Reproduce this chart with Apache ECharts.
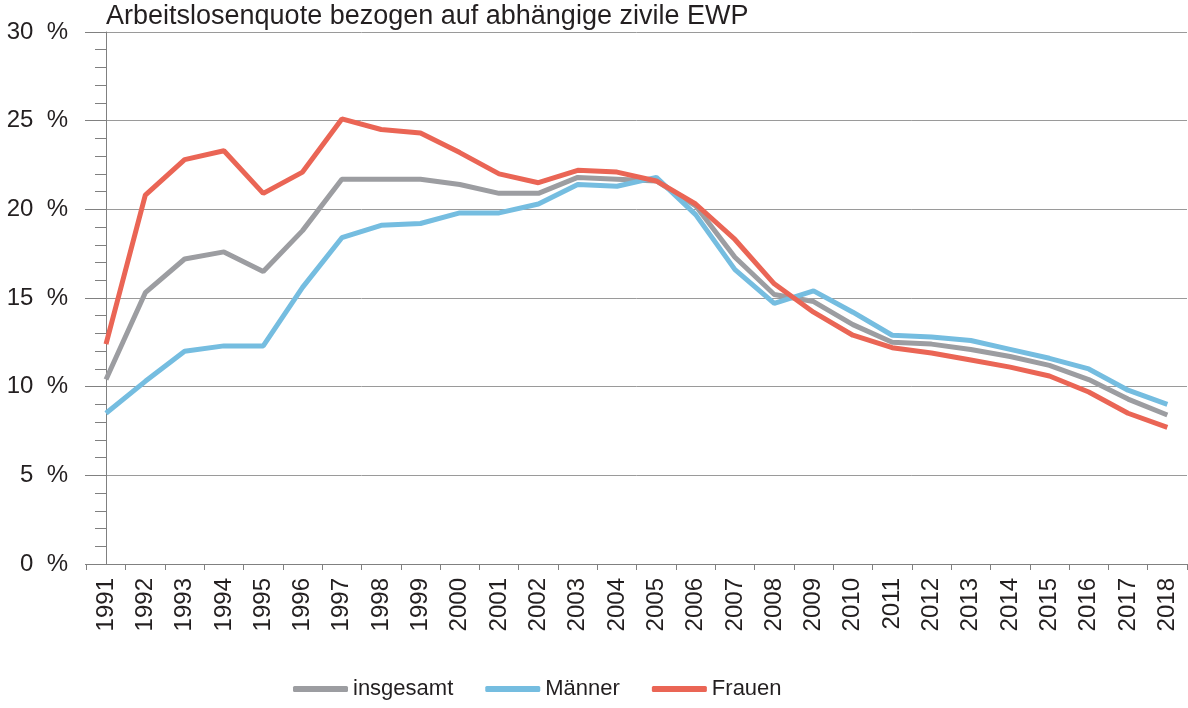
<!DOCTYPE html>
<html>
<head>
<meta charset="utf-8">
<script src="https://cdn.jsdelivr.net/npm/echarts@6/dist/echarts.min.js"></script>
<style>
  html, body { margin: 0; padding: 0; background: #ffffff; }
  #chart { width: 1188px; height: 708px; }
</style>
</head>
<body>
<div id="chart"></div>
<script>
const years = ['1991','1992','1993','1994','1995','1996','1997','1998','1999','2000','2001','2002','2003','2004','2005','2006','2007','2008','2009','2010','2011','2012','2013','2014','2015','2016','2017','2018'];
const insgesamt = [10.4,15.3,17.2,17.6,16.5,18.8,21.7,21.7,21.7,21.4,20.9,20.9,21.8,21.7,21.6,20.2,17.3,15.2,14.8,13.5,12.5,12.4,12.1,11.7,11.2,10.4,9.3,8.4];
const maenner   = [8.5,10.3,12.0,12.3,12.3,15.6,18.4,19.1,19.2,19.8,19.8,20.3,21.4,21.3,21.8,19.7,16.6,14.7,15.4,14.2,12.9,12.8,12.6,12.1,11.6,11.0,9.8,9.0];
const frauen    = [12.4,20.8,22.8,23.3,20.9,22.1,25.1,24.5,24.3,23.2,22.0,21.5,22.2,22.1,21.6,20.3,18.3,15.8,14.2,12.9,12.2,11.9,11.5,11.1,10.6,9.7,8.5,7.7];
const seriesNames = ['insgesamt','Männer','Frauen'];
const titleText = 'Arbeitslosenquote bezogen auf abhängige zivile EWP';

const FONT = '"Liberation Sans", Arial, Helvetica, sans-serif';
const TXT = '#231f20';
const AXIS = '#808080';
const colors = ['#9c9da1', '#75bde0', '#ea6555'];

const axisX = 106, plotRight = 1187;
const band = (plotRight - axisX) / (years.length - 0.5);
const gridLeft = axisX - band / 2;

const chart = echarts.init(document.getElementById('chart'), null, { renderer: 'canvas' });
chart.setOption({
  animation: false,
  backgroundColor: '#ffffff',
  textStyle: { fontFamily: FONT },
  title: {
    text: titleText,
    left: 106, top: 3, padding: 0,
    textStyle: { fontFamily: FONT, fontSize: 27, fontWeight: 'normal', color: TXT }
  },
  legend: {
    left: 293, top: 678, padding: 0,
    itemWidth: 55, itemHeight: 6, itemGap: 32,
    icon: 'roundRect',
    textStyle: { fontFamily: FONT, fontSize: 22, color: TXT },
    data: seriesNames
  },
  grid: { left: gridLeft, right: 1188 - plotRight, top: 32, bottom: 708 - 564, containLabel: false },
  xAxis: {
    type: 'category',
    data: years,
    boundaryGap: true,
    axisLine: { show: true, lineStyle: { color: AXIS, width: 1 } },
    axisTick: { show: true, length: 6, lineStyle: { color: AXIS }, interval: 0 },
    axisLabel: { rotate: 90, margin: 14, fontFamily: FONT, fontSize: 24, color: TXT, interval: 0 },
    splitLine: { show: false }
  },
  yAxis: {
    type: 'value',
    min: 0, max: 30, interval: 5,
    offset: -(axisX - gridLeft),
    axisLine: { show: true, lineStyle: { color: AXIS, width: 1 } },
    axisTick: { show: true, length: 21, lineStyle: { color: AXIS } },
    minorTick: { show: true, splitNumber: 5, length: 11, lineStyle: { color: AXIS } },
    axisLabel: { formatter: '{value}  %', margin: 38, fontFamily: FONT, fontSize: 24, color: TXT },
    splitLine: { show: true, lineStyle: { color: '#9a9a9a', width: 1 } }
  },
  series: [
    { name: seriesNames[0], type: 'line', data: insgesamt, symbol: 'none', lineStyle: { width: 5, color: colors[0] }, itemStyle: { color: colors[0] } },
    { name: seriesNames[1], type: 'line', data: maenner, symbol: 'none', lineStyle: { width: 5, color: colors[1] }, itemStyle: { color: colors[1] } },
    { name: seriesNames[2], type: 'line', data: frauen, symbol: 'none', lineStyle: { width: 5, color: colors[2] }, itemStyle: { color: colors[2] } }
  ]
});
</script>
</body>
</html>
